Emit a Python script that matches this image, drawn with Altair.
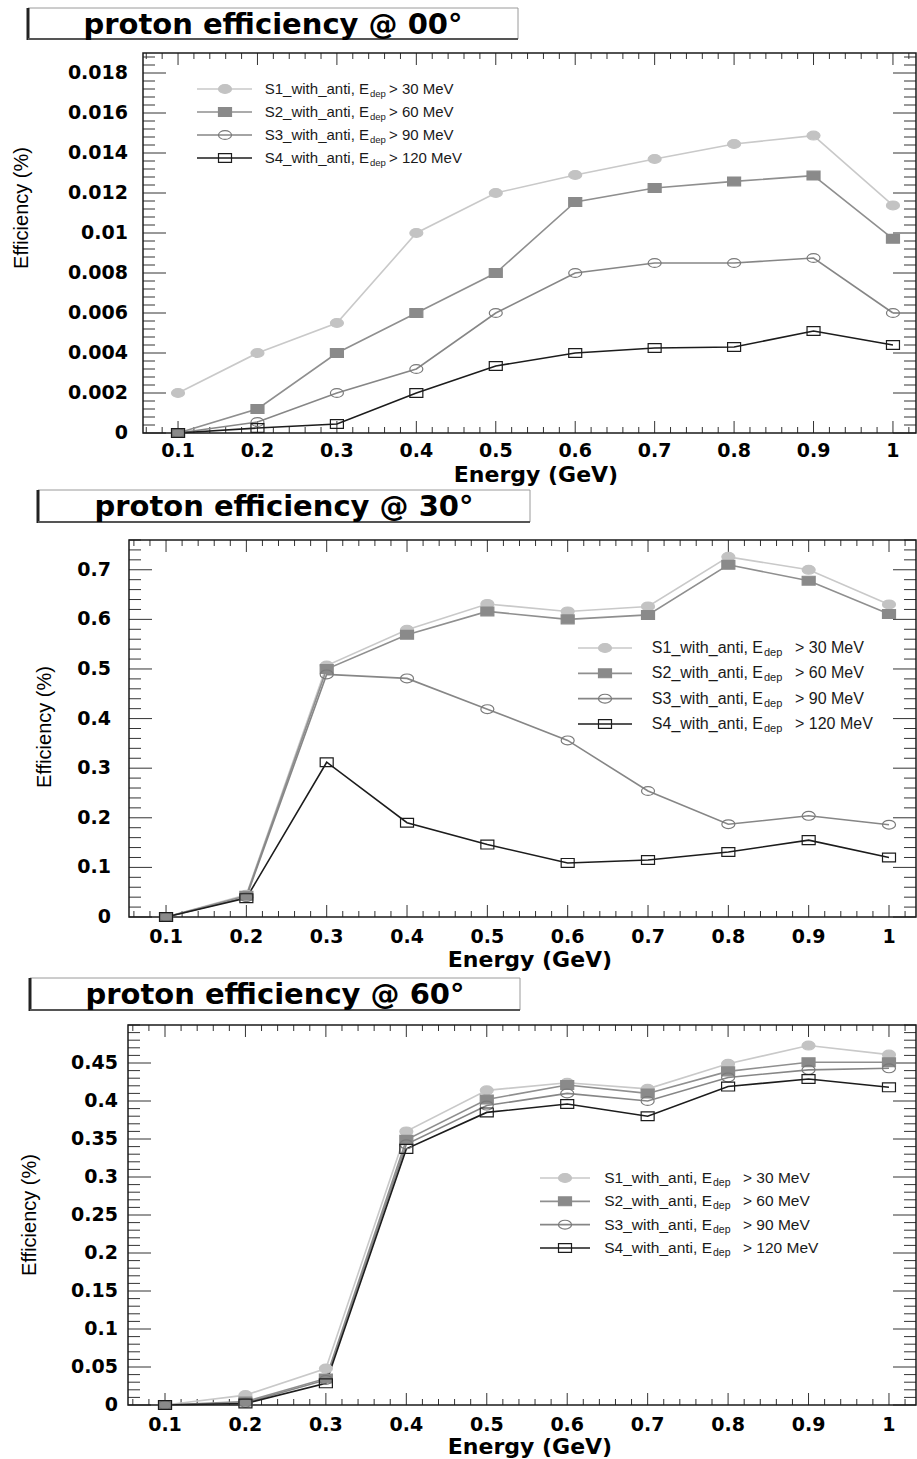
import altair as alt
import pandas as pd

# ---------------- data ----------------
ENERGY = [0.1, 0.2, 0.3, 0.4, 0.5, 0.6, 0.7, 0.8, 0.9, 1.0]
SERIES = ["S1", "S2", "S3", "S4"]
LEGEND_MAIN = ["S1_with_anti, E", "S2_with_anti, E", "S3_with_anti, E", "S4_with_anti, E"]
LEGEND_SUB = ["dep", "dep", "dep", "dep"]
LEGEND_CUT = ["> 30 MeV", "> 60 MeV", "> 90 MeV", "> 120 MeV"]
TITLES = ["proton efficiency @ 00\u00b0", "proton efficiency @ 30\u00b0", "proton efficiency @ 60\u00b0"]
X_LABEL = "Energy (GeV)"
Y_LABEL = "Efficiency (%)"

# 0 degrees
EFF00_S1 = [0.0020, 0.0040, 0.0055, 0.0100, 0.0120, 0.0129, 0.0137, 0.01445, 0.01487, 0.01138]
EFF00_S2 = [0.0, 0.0012, 0.0040, 0.0060, 0.0080, 0.01155, 0.01225, 0.01258, 0.01287, 0.00971]
EFF00_S3 = [0.0, 0.00055, 0.0020, 0.0032, 0.0060, 0.0080, 0.0085, 0.0085, 0.00875, 0.0060]
EFF00_S4 = [0.0, 0.00025, 0.00045, 0.0020, 0.00335, 0.0040, 0.00425, 0.0043, 0.0051, 0.0044]
# 30 degrees
EFF30_S1 = [0.0, 0.045, 0.507, 0.579, 0.631, 0.616, 0.626, 0.726, 0.700, 0.630]
EFF30_S2 = [0.0, 0.043, 0.500, 0.569, 0.616, 0.600, 0.609, 0.710, 0.678, 0.611]
EFF30_S3 = [0.0, 0.040, 0.489, 0.481, 0.419, 0.356, 0.254, 0.187, 0.204, 0.186]
EFF30_S4 = [0.0, 0.038, 0.312, 0.190, 0.146, 0.109, 0.115, 0.131, 0.155, 0.120]
# 60 degrees
EFF60_S1 = [0.0, 0.013, 0.048, 0.360, 0.414, 0.424, 0.416, 0.449, 0.473, 0.461]
EFF60_S2 = [0.0, 0.0045, 0.035, 0.349, 0.402, 0.421, 0.410, 0.439, 0.451, 0.451]
EFF60_S3 = [0.0, 0.003, 0.033, 0.343, 0.394, 0.410, 0.400, 0.431, 0.441, 0.443]
EFF60_S4 = [0.0, 0.002, 0.0285, 0.337, 0.385, 0.396, 0.380, 0.419, 0.429, 0.418]

X_TICKS = [0.1, 0.2, 0.3, 0.4, 0.5, 0.6, 0.7, 0.8, 0.9, 1.0]
Y_TICKS_00 = [0, 0.002, 0.004, 0.006, 0.008, 0.01, 0.012, 0.014, 0.016, 0.018]
Y_TICKS_30 = [0, 0.1, 0.2, 0.3, 0.4, 0.5, 0.6, 0.7]
Y_TICKS_60 = [0, 0.05, 0.1, 0.15, 0.2, 0.25, 0.3, 0.35, 0.4, 0.45]

# ---------------- styles ----------------
LINE_COLORS = ["#c9c9c9", "#8f8f8f", "#868686", "#1c1c1c"]
FILL_COLORS = ["#c3c3c3", "#8a8a8a", "transparent", "transparent"]
STROKE_COLORS = ["#c3c3c3", "#8a8a8a", "#7a7a7a", "#1c1c1c"]
LINE_WIDTHS = [1.6, 1.6, 1.6, 1.9]
ELLIPSE = "M -1 0 A 1 0.68 0 1 1 1 0 A 1 0.68 0 1 1 -1 0 Z"
BOX = "M -1 -0.68 L 1 -0.68 L 1 0.68 L -1 0.68 Z"
SHAPES = [ELLIPSE, BOX, ELLIPSE, BOX]
MARK_SIZE = 169

LABEL_FONT = "DejaVu Sans"
LEG_FONT = "Liberation Sans"
TICK_COLOR = "#333333"
PAGE_W, PAGE_H = 917, 1459

PANELS = [
    dict(values=[EFF00_S1, EFF00_S2, EFF00_S3, EFF00_S4], title=TITLES[0],
         L=143, T=53, W=773, H=380, xdom=[0.0559, 1.029], ydom=[0, 0.019],
         yticks=Y_TICKS_00, yminor=0.0004, box=(28, 8, 518, 39),
         ytitle=(22, 208), ylab_r=128, xlab_top=442, xtitle=(536, 475),
         leg=dict(rows=(89, 158), line=(197, 252), marker=225,
                  main_r=369, fs=15, subfs=9.5, suffix_x=389)),
    dict(values=[EFF30_S1, EFF30_S2, EFF30_S3, EFF30_S4], title=TITLES[1],
         L=129, T=540, W=787, H=377, xdom=[0.0539, 1.0336], ydom=[0, 0.76],
         yticks=Y_TICKS_30, yminor=0.02, box=(38, 490, 530, 522),
         ytitle=(45, 727), ylab_r=111, xlab_top=928, xtitle=(530, 960),
         leg=dict(rows=(648, 724), line=(578, 632), marker=605,
                  main_r=763, fs=16, subfs=11, suffix_x=795)),
    dict(values=[EFF60_S1, EFF60_S2, EFF60_S3, EFF60_S4], title=TITLES[2],
         L=128, T=1025, W=788, H=380, xdom=[0.054, 1.0336], ydom=[0, 0.5],
         yticks=Y_TICKS_60, yminor=0.01, box=(30, 978, 520, 1010),
         ytitle=(30, 1215), ylab_r=118, xlab_top=1416, xtitle=(530, 1447),
         leg=dict(rows=(1178, 1248), line=(540, 590), marker=565,
                  main_r=712, fs=15.5, subfs=10.5, suffix_x=743)),
]


def steps(lo, hi, step):
    out = []
    i = 0
    while True:
        v = round(i * step, 6)
        if v > hi:
            break
        if v >= lo:
            out.append(v)
        i += 1
    return out


def fmt(v):
    return f"{v:g}"


def panel_layers(cfg):
    L, T, W, H = cfg["L"], cfg["T"], cfg["W"], cfg["H"]
    xsc = alt.Scale(domain=cfg["xdom"], range=[L, L + W], nice=False, zero=False)
    ysc = alt.Scale(domain=cfg["ydom"], range=[T + H, T], nice=False, zero=False)
    one = pd.DataFrame({"k": [0]})
    layers = []

    # title box
    bx0, by0, bx1, by1 = cfg["box"]
    layers.append(alt.Chart(one).mark_rect(fill="white", stroke="#9a9a9a", strokeWidth=1).encode(
        x=alt.value(bx0), x2=alt.value(bx1), y=alt.value(by0), y2=alt.value(by1)))
    layers.append(alt.Chart(one).mark_rule(color="#222222", strokeWidth=3).encode(
        x=alt.value(bx0), y=alt.value(by0), y2=alt.value(by1 + 1)))
    layers.append(alt.Chart(one).mark_rule(color="#555555", strokeWidth=2).encode(
        x=alt.value(bx0), x2=alt.value(bx1), y=alt.value(by1)))
    layers.append(alt.Chart(one).mark_text(align="center", baseline="middle", font=LABEL_FONT,
                                           fontSize=29, fontWeight="bold", color="black",
                                           text=cfg["title"]).encode(
        x=alt.value((bx0 + bx1) / 2), y=alt.value((by0 + by1) / 2 + 1)))

    # inward ticks on all four sides
    xmajor = X_TICKS
    xminor = [v for v in steps(cfg["xdom"][0], cfg["xdom"][1], 0.02)
              if all(abs(v - m) > 1e-6 for m in xmajor)]
    ymajor = cfg["yticks"]
    yminor = [v for v in steps(cfg["ydom"][0], cfg["ydom"][1], cfg["yminor"])
              if all(abs(v - m) > 1e-9 for m in ymajor)]
    for vals, ln in ((xmajor, 12), (xminor, 6)):
        base = alt.Chart(pd.DataFrame({"v": vals})).mark_rule(color=TICK_COLOR, strokeWidth=1)
        xenc = alt.X("v:Q", scale=xsc, axis=None)
        layers.append(base.encode(x=xenc, y=alt.value(T + H), y2=alt.value(T + H - ln)))
        layers.append(base.encode(x=xenc, y=alt.value(T), y2=alt.value(T + ln)))
    for vals, ln in ((ymajor, 23), (yminor, 12)):
        base = alt.Chart(pd.DataFrame({"v": vals})).mark_rule(color=TICK_COLOR, strokeWidth=1)
        yenc = alt.Y("v:Q", scale=ysc, axis=None)
        layers.append(base.encode(y=yenc, x=alt.value(L), x2=alt.value(L + ln)))
        layers.append(base.encode(y=yenc, x=alt.value(L + W), x2=alt.value(L + W - ln)))

    # frame
    layers.append(alt.Chart(one).mark_rect(fillOpacity=0, stroke="#1a1a1a", strokeWidth=1.5).encode(
        x=alt.value(L), x2=alt.value(L + W), y=alt.value(T), y2=alt.value(T + H)))

    # tick labels
    xl = pd.DataFrame({"v": X_TICKS, "lab": [fmt(v) for v in X_TICKS]})
    layers.append(alt.Chart(xl).mark_text(align="center", baseline="top", font=LABEL_FONT,
                                          fontSize=19, fontWeight="bold", color="black").encode(
        x=alt.X("v:Q", scale=xsc, axis=None), y=alt.value(cfg["xlab_top"]), text="lab:N"))
    yl = pd.DataFrame({"v": cfg["yticks"], "lab": [fmt(v) for v in cfg["yticks"]]})
    layers.append(alt.Chart(yl).mark_text(align="right", baseline="middle", font=LABEL_FONT,
                                          fontSize=19, fontWeight="bold", color="black").encode(
        y=alt.Y("v:Q", scale=ysc, axis=None), x=alt.value(cfg["ylab_r"]), text="lab:N"))

    # axis titles
    xt_x, xt_y = cfg["xtitle"]
    layers.append(alt.Chart(one).mark_text(align="center", baseline="middle", font=LABEL_FONT,
                                           fontSize=22, fontWeight="bold", color="black",
                                           text=X_LABEL).encode(
        x=alt.value(xt_x), y=alt.value(xt_y)))
    yt_x, yt_y = cfg["ytitle"]
    layers.append(alt.Chart(one).mark_text(align="center", baseline="middle", font=LEG_FONT,
                                           fontSize=20, angle=270, color="black",
                                           text=Y_LABEL).encode(
        x=alt.value(yt_x), y=alt.value(yt_y)))

    # data
    rows = []
    for s, vals in zip(SERIES, cfg["values"]):
        for e, v in zip(ENERGY, vals):
            rows.append({"energy": e, "eff": v, "series": s})
    df = pd.DataFrame(rows)
    color = alt.Color("series:N", scale=alt.Scale(domain=SERIES, range=LINE_COLORS), legend=None)
    swidth = alt.StrokeWidth("series:N", scale=alt.Scale(domain=SERIES, range=LINE_WIDTHS), legend=None)
    shape = alt.Shape("series:N", scale=alt.Scale(domain=SERIES, range=SHAPES), legend=None)
    fill = alt.Fill("series:N", scale=alt.Scale(domain=SERIES, range=FILL_COLORS), legend=None)
    stroke = alt.Stroke("series:N", scale=alt.Scale(domain=SERIES, range=STROKE_COLORS), legend=None)

    layers.append(alt.Chart(df).mark_line().encode(
        x=alt.X("energy:Q", scale=xsc, axis=None),
        y=alt.Y("eff:Q", scale=ysc, axis=None),
        color=color, strokeWidth=swidth))
    layers.append(alt.Chart(df).mark_point(size=MARK_SIZE, opacity=1, strokeWidth=1.2).encode(
        x=alt.X("energy:Q", scale=xsc, axis=None),
        y=alt.Y("eff:Q", scale=ysc, axis=None),
        shape=shape, fill=fill, stroke=stroke))

    # legend (manual, to draw the subscript)
    lg = cfg["leg"]
    leg_df = pd.DataFrame({"r": [0, 1, 2, 3], "series": SERIES, "main": LEGEND_MAIN,
                           "sub": LEGEND_SUB, "cut": LEGEND_CUT})
    ry = alt.Y("r:Q", scale=alt.Scale(domain=[0, 3], range=list(lg["rows"]), nice=False, zero=False),
               axis=None)
    leg = alt.Chart(leg_df)
    layers.append(leg.mark_rule().encode(x=alt.value(lg["line"][0]), x2=alt.value(lg["line"][1]),
                                         y=ry, color=color, strokeWidth=swidth))
    layers.append(leg.mark_point(size=MARK_SIZE, opacity=1, strokeWidth=1.2).encode(
        x=alt.value(lg["marker"]), y=ry, shape=shape, fill=fill, stroke=stroke))
    layers.append(leg.mark_text(align="right", baseline="middle", font=LEG_FONT,
                                fontSize=lg["fs"], color="#1a1a1a").encode(
        x=alt.value(lg["main_r"]), y=ry, text="main:N"))
    layers.append(leg.mark_text(align="left", baseline="middle", font=LEG_FONT,
                                fontSize=lg["subfs"], color="#1a1a1a", dy=5).encode(
        x=alt.value(lg["main_r"] + 1), y=ry, text="sub:N"))
    layers.append(leg.mark_text(align="left", baseline="middle", font=LEG_FONT,
                                fontSize=lg["fs"], color="#1a1a1a").encode(
        x=alt.value(lg["suffix_x"]), y=ry, text="cut:N"))
    return layers


all_layers = []
for c in PANELS:
    all_layers.extend(panel_layers(c))

chart = (
    alt.layer(*all_layers)
    .resolve_scale(x="independent", y="independent")
    .properties(width=PAGE_W, height=PAGE_H, padding=0, background="white")
    .configure_view(strokeWidth=0)
)
chart.save("out.html", embed_options={"renderer": "svg", "actions": False})
